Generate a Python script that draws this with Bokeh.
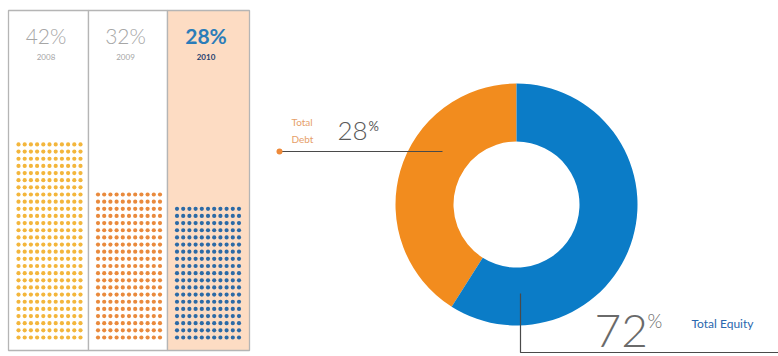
import math
from bokeh.plotting import figure
from bokeh.models import Range1d
from bokeh.core.properties import value
from bokeh.embed import file_html
from bokeh.resources import INLINE

# ---- data ----
years = ["2008", "2009", "2010"]
debt_ratio = [42, 32, 28]             # % shown above each column
donut_names = ["Total Debt", "Total Equity"]
donut_pct = [28, 72]                  # labels
donut_share_drawn = [41, 59]          # share of the ring as drawn

W, H = 778, 356
def Y(y):
    return H - y

p = figure(width=W, height=H, output_backend="svg", toolbar_location=None,
           x_range=Range1d(0, W), y_range=Range1d(0, H), min_border=0)
p.axis.visible = False
p.grid.visible = False
p.outline_line_color = None
p.background_fill_color = "white"
p.border_fill_color = "white"

FONT = value("Lato")
LIGHT = value("Lato Light, Lato")

# ---- left panel ----
col_left = [8, 88, 167]
col_right = [88, 167, 249]
box_top, box_bot = 10, 350
bg = ["white", "white", "#fddcc3"]
dot_colors = ["#f3b63c", "#e98a3d", "#2c6aa6"]
pct_colors = ["#a6a6a6", "#a6a6a6", "#2b7cb9"]
yr_colors = ["#a6a6a6", "#a6a6a6", "#24406e"]
styles = ["normal", "normal", "bold"]

p.quad(left=col_left, right=col_right, top=[Y(box_top)] * 3, bottom=[Y(box_bot)] * 3,
       fill_color=bg, line_color="#b5b5b5", line_width=1.3)

dx = 6.2
dy = 7.15
ncols = 11
bottom_row = 337
for i, v in enumerate(debt_ratio):
    rows = int(round(v / 1.5))
    x0 = col_left[i] + 10 if i == 0 else col_left[i] + 9.5
    xs, ys = [], []
    for r in range(rows):
        for c in range(ncols):
            xs.append(x0 + c * dx)
            ys.append(Y(bottom_row - r * dy))
    p.scatter(xs, ys, size=4.2, fill_color=dot_colors[i], line_color=None)
    cx = (col_left[i] + col_right[i]) / 2 - 2.5
    p.text([cx], [Y(35)], text=[f"{v}%"], text_align="center", text_baseline="middle",
           text_font=LIGHT if i < 2 else FONT, text_font_size="21px",
           text_font_style=styles[i], text_color=pct_colors[i])
    p.text([cx], [Y(56)], text=[years[i]], text_align="center", text_baseline="middle",
           text_font=FONT, text_font_size="8px", text_font_style=styles[i],
           text_color=yr_colors[i])

# ---- donut ----
cxd, cyd = 516, 204
r_in, r_out = 63, 121
tot = sum(donut_share_drawn)
a0 = math.pi / 2
a1 = a0 + 2 * math.pi * donut_share_drawn[0] / tot
p.annular_wedge(x=[cxd, cxd], y=[Y(cyd), Y(cyd)], inner_radius=r_in, outer_radius=r_out,
                start_angle=[a0, a1], end_angle=[a1, a0 + 2 * math.pi],
                fill_color=["#f28c1e", "#0b7cc7"], line_color=None, direction="anticlock")

# debt leader
p.line([279, 442], [Y(151), Y(151)], line_color="#4a4a4a", line_width=1.2)
p.scatter([279], [Y(151)], size=6, fill_color="#ee8a3a", line_color=None)
p.text([291, 291], [Y(121), Y(138)], text=["Total", "Debt"], text_align="left",
       text_baseline="middle", text_font=FONT, text_font_size="10px", text_color="#e6a06a")
p.text([337], [Y(130)], text=[f"{donut_pct[0]}"], text_align="left", text_baseline="middle",
       text_font=LIGHT, text_font_size="26px", text_color="#5a5a5a")
p.text([368], [Y(125)], text=["%"], text_align="left", text_baseline="middle",
       text_font=FONT, text_font_size="13px", text_color="#5a5a5a")

# equity leader
p.line([520, 520, W], [Y(293), Y(352), Y(352)], line_color="#4a4a4a", line_width=1.2)
p.text([594], [Y(330)], text=[f"{donut_pct[1]}"], text_align="left", text_baseline="middle",
       text_font=LIGHT, text_font_size="46px", text_color="#6a6a6a")
p.text([647], [Y(320)], text=["%"], text_align="left", text_baseline="middle",
       text_font=LIGHT, text_font_size="19px", text_color="#6a6a6a")
p.text([691], [Y(323)], text=[donut_names[1]], text_align="left", text_baseline="middle",
       text_font=FONT, text_font_size="12px", text_color="#2a67ae")

open("out.html", "w").write(file_html(p, INLINE))
